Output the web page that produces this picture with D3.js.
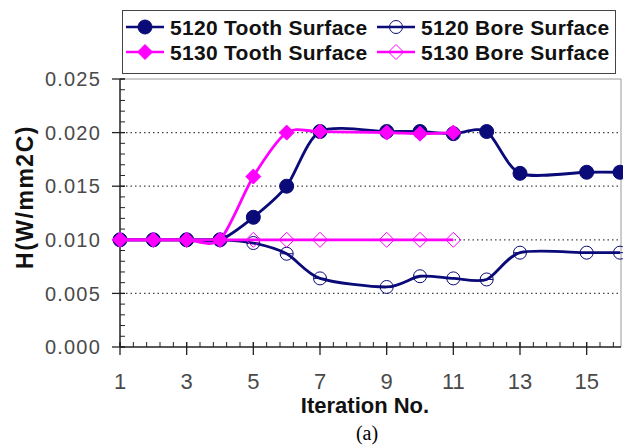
<!DOCTYPE html>
<html>
<head>
<meta charset="utf-8">
<script src="https://cdn.jsdelivr.net/npm/d3@7"></script>
<style>
  body { margin: 0; background: #fff; }
  svg { display: block; font-family: "Liberation Sans", Arial, sans-serif; }
</style>
</head>
<body>
<div id="chart"></div>
<script>
// iterations and values
const iterTooth5120 = [1, 2, 3, 4, 5, 6, 7, 9, 10, 11, 12, 13, 15, 16];
const valTooth5120 = [0.010, 0.010, 0.010, 0.010, 0.0121, 0.0150, 0.0201, 0.0201, 0.0201, 0.0199, 0.0201, 0.0162, 0.0163, 0.0163];

const iterBore5120 = [1, 2, 3, 4, 5, 6, 7, 9, 10, 11, 12, 13, 15, 16];
const valBore5120 = [0.010, 0.010, 0.010, 0.010, 0.0097, 0.0087, 0.0064, 0.0056, 0.0066, 0.0064, 0.0063, 0.0088, 0.0088, 0.0088];

const iterTooth5130 = [1, 2, 3, 4, 5, 6, 7, 9, 10, 11];
const valTooth5130 = [0.010, 0.010, 0.010, 0.010, 0.0159, 0.0200, 0.0201, 0.0200, 0.0199, 0.0200];

const iterBore5130 = [1, 2, 3, 4, 5, 6, 7, 9, 10, 11];
const valBore5130 = [0.010, 0.010, 0.010, 0.010, 0.010, 0.010, 0.010, 0.010, 0.010, 0.010];

const seriesNames = ["5120 Tooth Surface", "5120 Bore Surface", "5130 Tooth Surface", "5130 Bore Surface"];
const yTicks = [0, 0.005, 0.010, 0.015, 0.020, 0.025];
const xTicks = [1, 3, 5, 7, 9, 11, 13, 15];

const W = 623, H = 446;
const plotLeft = 120, plotRight = 621, plotTop = 79, plotBottom = 347;

const svg = d3.select("#chart").append("svg")
    .attr("width", W)
    .attr("height", H);

svg.append("rect").attr("width", W).attr("height", H).attr("fill", "#fff");

const x = d3.scaleLinear().domain([1, 16]).range([plotLeft, plotRight - 1]);
const y = d3.scaleLinear().domain([0, 0.025]).range([plotBottom, plotTop]);

// plot area border (top and right)
svg.append("path")
    .attr("d", `M${plotLeft},${plotTop}H${plotRight}V${plotBottom}`)
    .attr("fill", "none")
    .attr("stroke", "#999")
    .attr("stroke-width", 1);

// dotted gridlines
svg.append("g")
    .selectAll("line")
    .data(yTicks.filter(d => d > 0 && d < 0.025))
    .join("line")
    .attr("x1", plotLeft + 6)
    .attr("x2", plotRight - 2)
    .attr("y1", d => y(d))
    .attr("y2", d => y(d))
    .attr("stroke", "#444")
    .attr("stroke-width", 1.3)
    .attr("stroke-dasharray", "1.5,3");

// y axis: major ticks cross the line, minor ticks inside
const yAxis = svg.append("g").attr("stroke", "#222");
yAxis.append("line")
    .attr("x1", plotLeft).attr("x2", plotLeft)
    .attr("y1", plotTop).attr("y2", plotBottom)
    .attr("stroke-width", 1.5);
yAxis.selectAll(".minor")
    .data(d3.range(0, 26).map(i => i * 0.001))
    .join("line")
    .attr("x1", plotLeft).attr("x2", plotLeft + 5)
    .attr("y1", d => y(d)).attr("y2", d => y(d));
yAxis.selectAll(".major")
    .data(yTicks)
    .join("line")
    .attr("x1", plotLeft - 8).attr("x2", plotLeft + 5)
    .attr("y1", d => y(d)).attr("y2", d => y(d))
    .attr("stroke-width", 1.3);

svg.append("g")
    .selectAll("text")
    .data(yTicks)
    .join("text")
    .attr("x", plotLeft - 19)
    .attr("y", d => y(d))
    .attr("dy", "0.36em")
    .attr("text-anchor", "end")
    .attr("fill", "#4a4a4a")
    .style("font-size", "20px")
    .style("letter-spacing", "1.2px")
    .text(d => d3.format(".3f")(d));

// x axis
const xAxis = svg.append("g").attr("stroke", "#222");
xAxis.append("line")
    .attr("x1", plotLeft).attr("x2", plotRight)
    .attr("y1", plotBottom).attr("y2", plotBottom)
    .attr("stroke-width", 1.5);
xAxis.selectAll(".minor")
    .data(d3.range(0, 38).map(i => 1 + i * 0.4).filter(d => d <= 16.01))
    .join("line")
    .attr("x1", d => x(d)).attr("x2", d => x(d))
    .attr("y1", plotBottom).attr("y2", plotBottom - 5);
xAxis.selectAll(".major")
    .data(xTicks)
    .join("line")
    .attr("x1", d => x(d)).attr("x2", d => x(d))
    .attr("y1", plotBottom - 5).attr("y2", plotBottom + 8)
    .attr("stroke-width", 1.3);

svg.append("g")
    .selectAll("text")
    .data(xTicks)
    .join("text")
    .attr("x", d => x(d))
    .attr("y", 381)
    .attr("dy", "0.36em")
    .attr("text-anchor", "middle")
    .attr("fill", "#4a4a4a")
    .style("font-size", "22px")
    .text(d => d);

// axis titles
svg.append("text")
    .attr("x", 365)
    .attr("y", 405)
    .attr("dy", "0.36em")
    .attr("text-anchor", "middle")
    .attr("fill", "#111")
    .style("font-size", "22px")
    .style("font-weight", "bold")
    .text("Iteration No.");

svg.append("text")
    .attr("transform", "translate(25,197) rotate(-90)")
    .attr("dy", "0.36em")
    .attr("text-anchor", "middle")
    .attr("fill", "#111")
    .style("font-size", "23px")
    .style("font-weight", "bold")
    .style("letter-spacing", "1.5px")
    .text("H(W/mm2C)");

svg.append("text")
    .attr("x", 367)
    .attr("y", 433)
    .attr("dy", "0.36em")
    .attr("text-anchor", "middle")
    .attr("fill", "#000")
    .style("font-family", "'Liberation Serif', 'Times New Roman', serif")
    .style("font-size", "20px")
    .text("(a)");

// series
const navy = "#0a0a78", magenta = "#ff00ff";
const series = [
    { name: seriesNames[0], iters: iterTooth5120, vals: valTooth5120, color: navy, shape: "circle", filled: true },
    { name: seriesNames[1], iters: iterBore5120, vals: valBore5120, color: navy, shape: "circle", filled: false },
    { name: seriesNames[2], iters: iterTooth5130, vals: valTooth5130, color: magenta, shape: "diamond", filled: true },
    { name: seriesNames[3], iters: iterBore5130, vals: valBore5130, color: magenta, shape: "diamond", filled: false }
];

const line = d3.line()
    .x(d => x(d[0]))
    .y(d => y(d[1]))
    .curve(d3.curveCardinal.tension(0.2));

function marker(g, s) {
    if (s.shape === "circle") {
        g.append("circle")
            .attr("r", s.filled ? 7 : 6.5)
            .attr("fill", s.filled ? s.color : "none")
            .attr("stroke", s.color)
            .attr("stroke-width", 1);
        if (!s.filled) {
            g.append("line").attr("x1", -6.5).attr("x2", 6.5)
                .attr("stroke", s.color).attr("stroke-width", 1);
        }
    } else {
        const r = 7.5;
        g.append("path")
            .attr("d", `M0,${-r}L${r},0L0,${r}L${-r},0Z`)
            .attr("fill", s.filled ? s.color : "none")
            .attr("stroke", s.color)
            .attr("stroke-width", 1);
    }
}

series.forEach(s => {
    const pts = s.iters.map((it, i) => [it, s.vals[i]]);
    const g = svg.append("g");
    g.append("path")
        .attr("d", line(pts))
        .attr("fill", "none")
        .attr("stroke", s.color)
        .attr("stroke-width", 2.8);
    pts.forEach(p => {
        const m = g.append("g").attr("transform", `translate(${x(p[0])},${y(p[1])})`);
        marker(m, s);
    });
});

// legend
const legend = svg.append("g");
legend.append("rect")
    .attr("x", 122.5).attr("y", 10.5)
    .attr("width", 493).attr("height", 63)
    .attr("fill", "#fff")
    .attr("stroke", "#444")
    .attr("stroke-width", 1);

const legendPos = [
    { lx: 126, ly: 27 },
    { lx: 377, ly: 27 },
    { lx: 126, ly: 52 },
    { lx: 377, ly: 52 }
];
series.forEach((s, i) => {
    const p = legendPos[i];
    const g = legend.append("g");
    g.append("line")
        .attr("x1", p.lx).attr("x2", p.lx + 38)
        .attr("y1", p.ly).attr("y2", p.ly)
        .attr("stroke", s.color)
        .attr("stroke-width", 2.5);
    marker(g.append("g").attr("transform", `translate(${p.lx + 19},${p.ly})`), s);
    g.append("text")
        .attr("x", p.lx + 44)
        .attr("y", p.ly)
        .attr("dy", "0.36em")
        .attr("fill", "#111")
        .style("font-size", "21px")
        .style("font-weight", "bold")
        .style("letter-spacing", "0.3px")
        .text(s.name);
});
</script>
</body>
</html>
